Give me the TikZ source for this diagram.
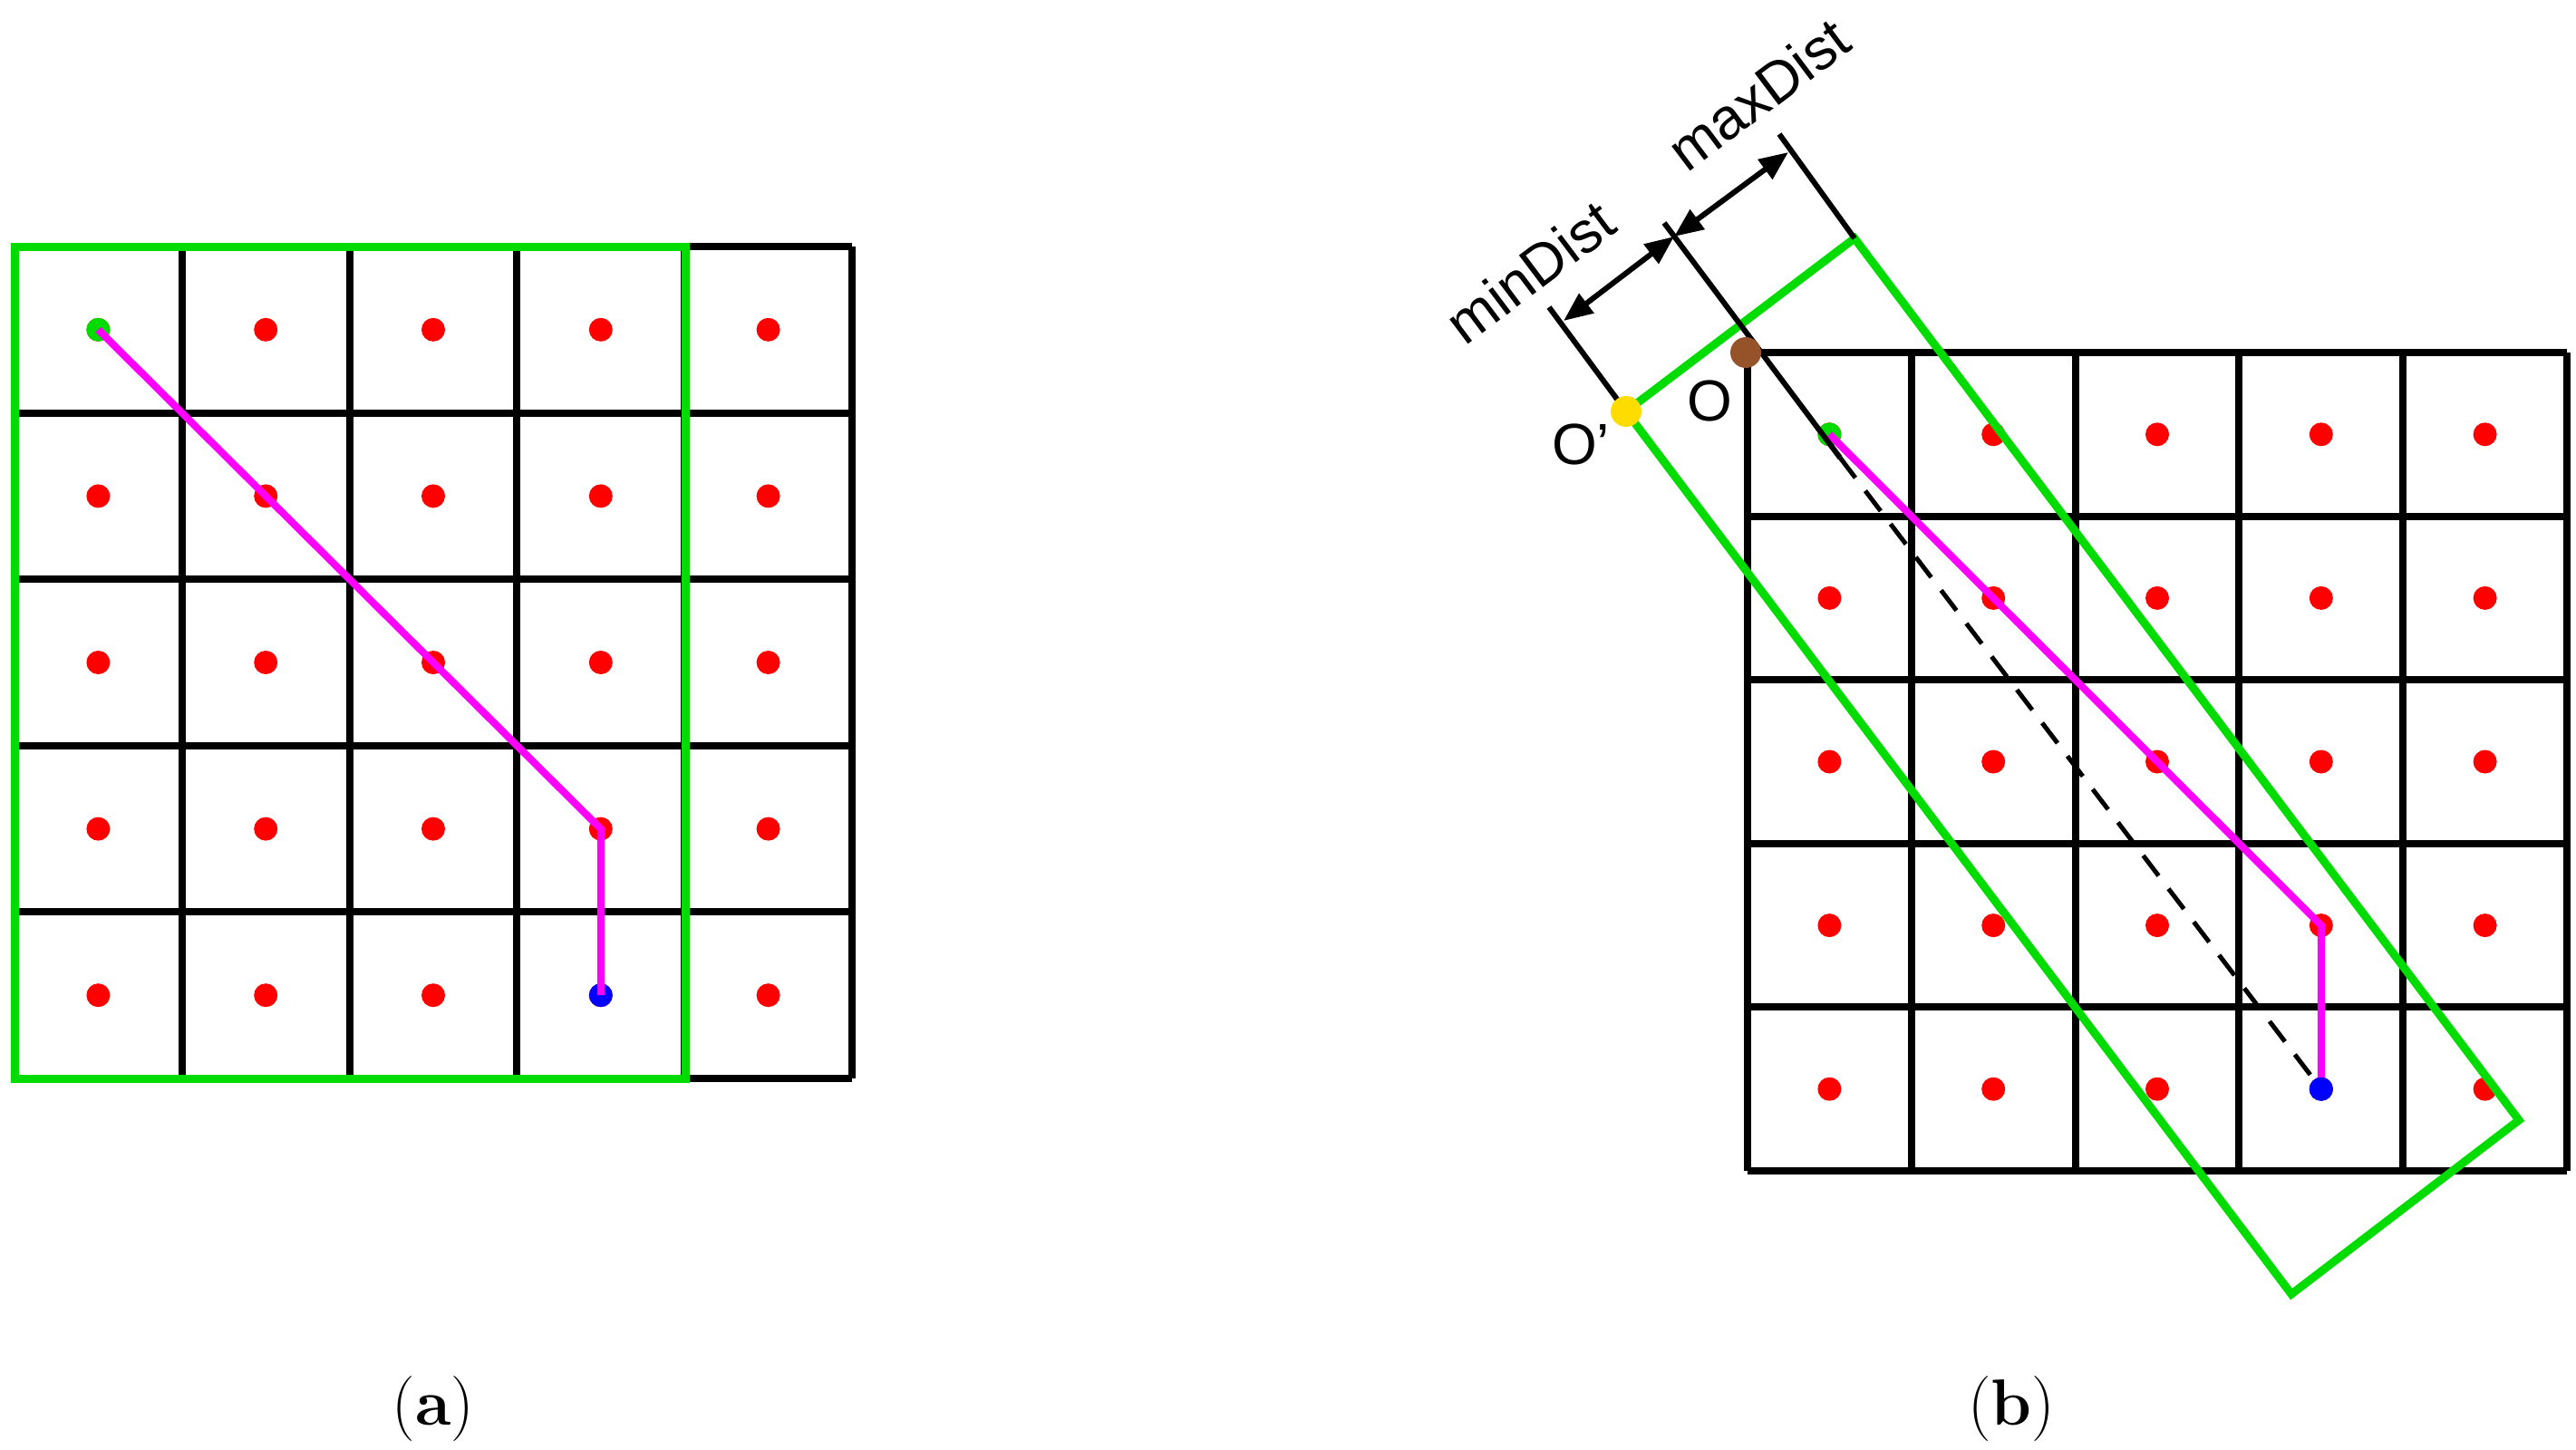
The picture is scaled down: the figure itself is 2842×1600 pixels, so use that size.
\documentclass[tikz,border=0pt]{standalone}
\usepackage{fontspec}
\newfontfamily\arialf{Liberation Sans}
\usetikzlibrary{arrows.meta}
\definecolor{grn}{RGB}{0,220,0}
\definecolor{pnk}{RGB}{255,0,255}
\begin{document}
\begin{tikzpicture}[x=1pt,y=-1pt,
  gridline/.style={line width=8pt,black},
  greenbox/.style={line width=9pt,draw=grn},
  pathline/.style={line width=8pt,pnk},
  dot/.style={circle,inner sep=0pt,minimum size=26pt,fill=red},
  dimline/.style={line width=6pt,black},
  dimarrow/.style={line width=6pt,black,{Triangle[length=32pt,width=26pt]}-{Triangle[length=32pt,width=26pt]}},
  lbl/.style={font=\arialf\fontsize{64}{66}\selectfont,inner sep=0pt},
  captxt/.style={font=\fontsize{72}{76}\selectfont,inner sep=0pt}]
\useasboundingbox (0,0) rectangle (2842,1600);
% ---------- (a) ----------
\foreach \i in {0,...,5}{
  \draw[gridline] ({16+184.8*\i},272) -- ({16+184.8*\i},1190);
  \draw[gridline] (16,{272+183.6*\i}) -- (940,{272+183.6*\i});}
\foreach \i in {1,...,5}{\foreach \j in {1,...,5}{
  \node[dot] (L-\i-\j) at ({16+184.8*(\i-0.5)},{272+183.6*(\j-0.5)}) {};}}
\node[dot,fill=grn] at (L-1-1) {};
\node[dot,fill=blue] at (L-4-5) {};
\draw[greenbox] (16,272) rectangle (756,1190);
\draw[pathline] (L-1-1.center) -- (L-4-4.center) -- (L-4-5.center);
\node[captxt] (capa) at (478,1555) {(\textbf{a})};
% ---------- (b) ----------
\foreach \i in {0,...,5}{
  \draw[gridline] ({1928+180.8*\i},389) -- ({1928+180.8*\i},1292);
  \draw[gridline] (1928,{389+180.6*\i}) -- (2832,{389+180.6*\i});}
\foreach \i in {1,...,5}{\foreach \j in {1,...,5}{
  \node[dot] (R-\i-\j) at ({1928+180.8*(\i-0.5)},{389+180.6*(\j-0.5)}) {};}}
\node[dot,fill=grn] at (R-1-1) {};
\node[dot,fill=blue] at (R-4-5) {};
\draw[pathline] (R-1-1.center) -- (R-2-2.center) -- (R-4-4.center) -- (R-4-5.center);
% dimension lines
\coordinate (mtop) at (1836,246);
\coordinate (mbot) at (2030,505);
\coordinate (ltop) at (1709,339);
\coordinate (Op) at (1794,454);
\coordinate (rtop) at (1963,148);
\coordinate (gtop) at (2046,263);
\coordinate (gbr) at (2779,1236);
\coordinate (gbl) at (2528,1428);
\coordinate (a1) at (1725,354);
\coordinate (a2) at (1847,261);
\coordinate (a3) at (1973,168);
\draw[greenbox] (Op) -- (gtop) -- (gbr) -- (gbl) -- cycle;
\draw[dimline] (mtop) -- (mbot);
\draw[line width=5pt,black,dash pattern=on 28pt off 18pt] (mbot) -- (R-4-5.center);
\draw[dimline] (ltop) -- (Op);
\draw[dimline] (rtop) -- (gtop);
\draw[dimarrow] (a1) -- (a2);
\draw[dimarrow] (a2) -- (a3);
\node[circle,inner sep=0pt,minimum size=34pt,fill={rgb,255:red,150;green,82;blue,40}] (O) at (1926,389) {};
\node[circle,inner sep=0pt,minimum size=34pt,fill={rgb,255:red,255;green,220;blue,0}] (Opdot) at (Op) {};
\node[dot,fill=blue] at (R-4-5) {};
\node[lbl] (Olbl) at (1886,442) {O};
\node[lbl] (Oplbl) at (1744,490) {O’};
\node[lbl,rotate=36.9] (minl) at (1688,300) {minDist};
\node[lbl,rotate=36.9] (maxl) at (1940,104) {maxDist};
\node[captxt] (capb) at (2219,1555) {(\textbf{b})};
\end{tikzpicture}
\end{document}
